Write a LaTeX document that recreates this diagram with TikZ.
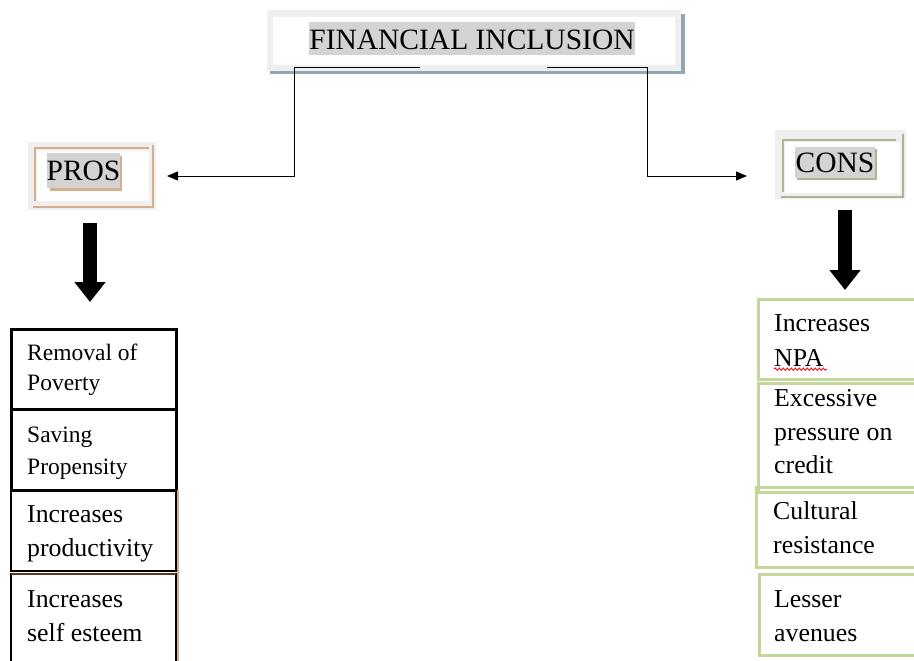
\documentclass[tikz,border=0pt]{standalone}
\usepackage{fontspec}
\setmainfont{Liberation Serif}
\usetikzlibrary{arrows.meta,decorations.pathmorphing}
\definecolor{framegray}{HTML}{EFEFEF}
\definecolor{shadowblue}{HTML}{8FA9B3}
\definecolor{hl}{HTML}{D3D3D3}
\definecolor{tanc}{HTML}{D6AE8C}
\definecolor{consgreen}{HTML}{A9B68F}
\definecolor{boxgreen}{HTML}{C3D69B}
\definecolor{darkbrown}{HTML}{5A3A22}
\begin{document}
\begin{tikzpicture}[x=1pt,y=-1pt,
  txt/.style={inner sep=0pt, anchor=base west, font=\fontsize{25.8}{30}\selectfont},
  txts/.style={inner sep=0pt, anchor=base west, font=\fontsize{23.5}{27}\selectfont},
  head/.style={inner sep=0pt, anchor=base, font=\fontsize{29.5}{34}\selectfont},
  hlbox/.style={fill=hl, inner sep=0pt, outer sep=0pt, anchor=north west},
  conn/.style={draw=black, line width=1pt, -{Triangle[length=11pt,width=9pt]}},
  bigarrow/.style={draw=black, line width=14pt, -{Triangle[length=20pt,width=30pt]}},
  lbox/.style={draw=black, line width=3pt, inner sep=0pt, outer sep=0pt, anchor=north west},
  rbox/.style={draw=boxgreen, line width=3pt, inner sep=0pt, outer sep=0pt, anchor=north west},
]
\useasboundingbox (0,0) rectangle (914,661);
\fill[white] (0,0) rectangle (914,661);

% ---- title ----
\fill[shadowblue] (270,14) rectangle (685,74);
\fill[framegray] (267,10) rectangle (681,71);
\fill[white] (273,17) rectangle (675,65);
\node[hlbox, minimum width=326pt, minimum height=33pt] (titlehl) at (309,22) {};
\node[head] (title) at (472,50) {FINANCIAL INCLUSION};

% ---- PROS ----
\fill[framegray] (28,142) rectangle (156,210);
\fill[white] (37,151) rectangle (149,201);
\draw[tanc, line width=2.5pt] (35,201) -- (35,148) -- (149,148);
\draw[tanc, line width=2.5pt] (153,145) -- (153,207) -- (33,207);
\fill[tanc] (50,156) rectangle (122,191);
\node[hlbox, minimum width=73pt, minimum height=35pt] (proshl) at (47,153) {};
\node[head] (pros) at (83.5,180) {PROS};

% ---- CONS ----
\fill[framegray] (775,130) rectangle (906,199);
\fill[white] (785,142) rectangle (900,193);
\draw[consgreen, line width=2.5pt] (783,192) -- (783,140) -- (896,140);
\draw[consgreen, line width=2.5pt] (903,134) -- (903,197) -- (781,197);
\fill[consgreen] (797,149) rectangle (877,180);
\node[hlbox, minimum width=80pt, minimum height=31pt] (conshl) at (795,147) {};
\node[head] (cons) at (835,172) {CONS};

% ---- thin connectors ----
\coordinate (tl) at (420,68);
\coordinate (tlc) at (294,68);
\coordinate (pa) at (167,176);
\coordinate (tr) at (547,68);
\coordinate (trc) at (647,68);
\coordinate (ca) at (747,176);
\draw[conn] (tl) -- (tlc) |- (pa);
\draw[conn] (tr) -- (trc) |- (ca);

% ---- big arrows ----
\coordinate (la1) at (90,223);
\coordinate (la2) at (90,302);
\coordinate (ra1) at (845,210);
\coordinate (ra2) at (845,290);
\draw[bigarrow] (la1) -- (la2);
\draw[bigarrow] (ra1) -- (ra2);

% ---- left boxes ----
\node[lbox, minimum width=165pt, minimum height=80pt] (p1) at (11,329) {};
\node[lbox, minimum width=165pt, minimum height=81pt] (p2) at (11,409) {};
\draw[tanc, line width=2pt] (178,490) -- (178,665);
\node[lbox, line width=2pt, minimum width=165pt, minimum height=81pt] (p3) at (11,490) {};
\node[lbox, line width=2pt, minimum width=165pt, minimum height=95pt] (p4) at (11,574) {};
\draw[darkbrown, line width=2pt] (p4.north west) -- (p4.north east);

\node[txts] (t1a) at (27,360) {Removal of};
\node[txts] (t1b) at (27,390) {Poverty};
\node[txts] (t2a) at (27,442) {Saving};
\begin{scope}
\clip (12,450) rectangle (175,479);
\node[txts] (t2b) at (27,474) {Propensity};
\end{scope}
\node[txt] (t3a) at (27,522) {Increases};
\node[txt] (t3b) at (27,556) {productivity};
\node[txt] (t4a) at (27,607) {Increases};
\node[txt] (t4b) at (27,641) {self esteem};

% ---- right boxes ----
\node[rbox, minimum width=165pt, minimum height=80pt] (c1) at (758,299) {};
\node[rbox, minimum width=165pt, minimum height=109pt] (c2) at (758,383) {};
\node[rbox, minimum width=167pt, minimum height=80pt] (c3) at (756,487) {};
\node[rbox, minimum width=164pt, minimum height=81pt] (c4) at (759,574) {};

\node[txt] (s1a) at (774,331) {Increases};
\node[txt] (s1b) at (774,366) {NPA};
\draw[red, line width=0.8pt, decorate, decoration={snake, amplitude=1.2pt, segment length=4pt}] (s1b.south west) ++(0,3) -- ++(53,0);
\node[txt] (s2a) at (774,406) {Excessive};
\node[txt] (s2b) at (774,440) {pressure on};
\node[txt] (s2c) at (774,473) {credit};
\node[txt] (s3a) at (773,519) {Cultural};
\node[txt] (s3b) at (773,553) {resistance};
\node[txt] (s4a) at (774,607) {Lesser};
\node[txt] (s4b) at (774,641) {avenues};
\end{tikzpicture}
\end{document}
